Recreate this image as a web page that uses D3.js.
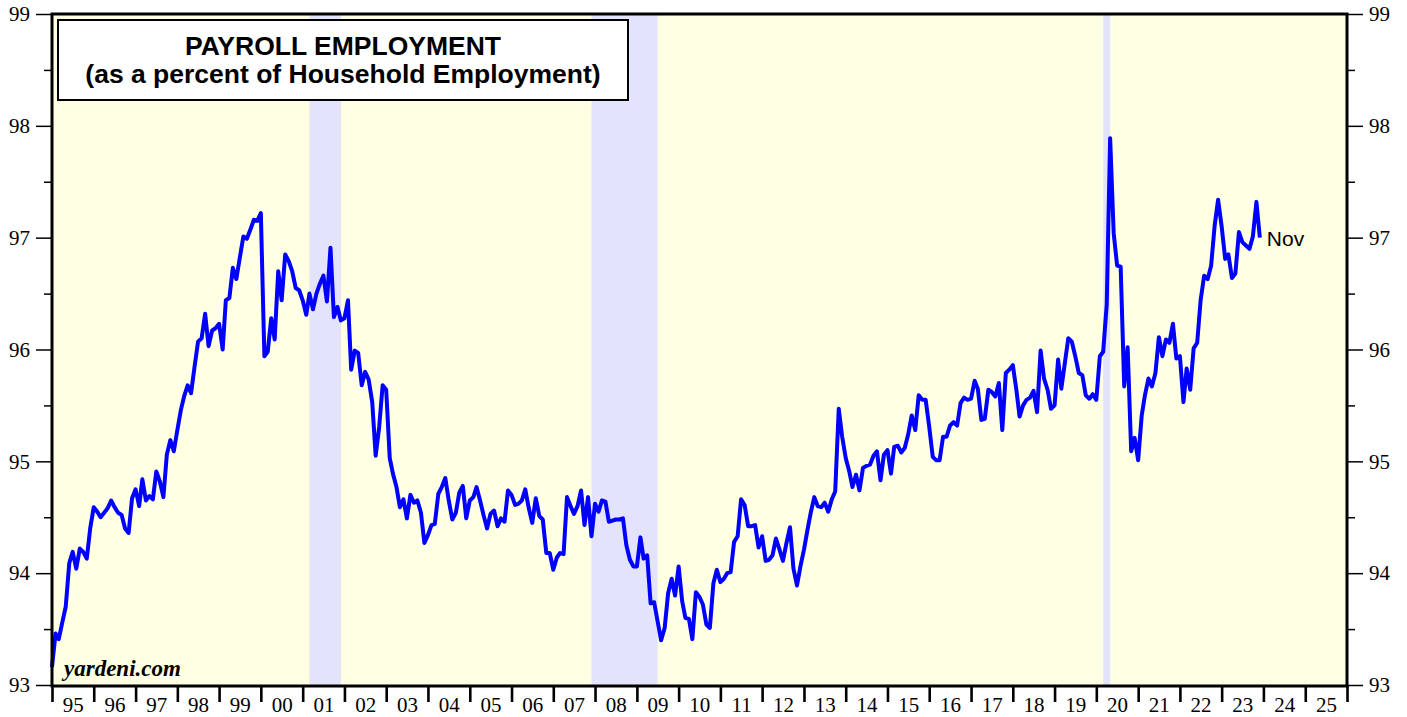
<!DOCTYPE html>
<html>
<head>
<meta charset="utf-8">
<script src="https://cdn.jsdelivr.net/npm/d3@7"></script>
<style>
  body { margin: 0; background: #fff; }
  svg { display: block; }
</style>
</head>
<body>
<svg id="chart" width="1407" height="717"></svg>
<script>
// monthly series, Dec 1994 .. Nov 2023 (percent)
const firstMonth = [1994, 11] // year, month index (0 = Jan)
const payrollPct = [
  93.16, 93.46, 93.41, 93.56, 93.70, 94.09, 94.19, 94.04, 94.22, 94.19, 94.13, 94.40,
  94.59, 94.55, 94.50, 94.54, 94.58, 94.65, 94.59, 94.54, 94.52, 94.40, 94.36, 94.67,
  94.75, 94.60, 94.84, 94.65, 94.69, 94.66, 94.91, 94.82, 94.68, 95.06, 95.19, 95.09,
  95.28, 95.46, 95.58, 95.68, 95.61, 95.85, 96.07, 96.10, 96.32, 96.03, 96.17, 96.19,
  96.23, 96.00, 96.44, 96.46, 96.73, 96.63, 96.82, 97.01, 96.99, 97.07, 97.16, 97.15,
  97.22, 95.94, 95.98, 96.28, 96.09, 96.70, 96.44, 96.85, 96.79, 96.70, 96.55, 96.53,
  96.44, 96.31, 96.50, 96.36, 96.50, 96.59, 96.66, 96.43, 96.91, 96.29, 96.38, 96.26,
  96.28, 96.44, 95.82, 95.99, 95.97, 95.68, 95.80, 95.73, 95.53, 95.05, 95.31, 95.68,
  95.64, 95.03, 94.89, 94.77, 94.59, 94.66, 94.49, 94.70, 94.63, 94.65, 94.54, 94.27,
  94.34, 94.43, 94.44, 94.71, 94.77, 94.85, 94.65, 94.48, 94.54, 94.72, 94.78, 94.49,
  94.65, 94.68, 94.77, 94.65, 94.52, 94.40, 94.53, 94.56, 94.42, 94.49, 94.46, 94.74,
  94.70, 94.61, 94.62, 94.65, 94.75, 94.58, 94.45, 94.67, 94.51, 94.48, 94.18, 94.18,
  94.03, 94.14, 94.18, 94.17, 94.68, 94.60, 94.53, 94.60, 94.74, 94.43, 94.68, 94.33,
  94.62, 94.55, 94.65, 94.64, 94.46, 94.47, 94.48, 94.48, 94.49, 94.25, 94.12, 94.06,
  94.06, 94.32, 94.13, 94.16, 93.73, 93.74, 93.57, 93.40, 93.51, 93.82, 93.95, 93.80,
  94.06, 93.75, 93.60, 93.59, 93.41, 93.83, 93.79, 93.72, 93.54, 93.51, 93.91, 94.03,
  93.92, 93.95, 94.00, 94.01, 94.28, 94.33, 94.66, 94.61, 94.42, 94.42, 94.43, 94.23,
  94.33, 94.11, 94.12, 94.16, 94.31, 94.21, 94.11, 94.27, 94.41, 94.04, 93.89, 94.06,
  94.21, 94.39, 94.54, 94.68, 94.60, 94.59, 94.63, 94.55, 94.66, 94.73, 95.47, 95.22,
  95.03, 94.91, 94.77, 94.88, 94.74, 94.94, 94.96, 94.97, 95.05, 95.09, 94.83, 95.06,
  95.10, 94.89, 95.13, 95.14, 95.08, 95.12, 95.24, 95.41, 95.28, 95.59, 95.55, 95.55,
  95.31, 95.04, 95.01, 95.01, 95.22, 95.22, 95.32, 95.35, 95.32, 95.52, 95.57, 95.55,
  95.56, 95.72, 95.65, 95.37, 95.38, 95.64, 95.62, 95.58, 95.70, 95.28, 95.79, 95.82,
  95.86, 95.64, 95.40, 95.50, 95.55, 95.57, 95.63, 95.44, 95.99, 95.74, 95.64, 95.47,
  95.50, 95.91, 95.65, 95.88, 96.10, 96.07, 95.94, 95.79, 95.77, 95.59, 95.56, 95.60,
  95.55, 95.94, 95.98, 96.40, 97.89, 97.04, 96.75, 96.74, 95.67, 96.02, 95.09, 95.21,
  95.01, 95.41, 95.59, 95.74, 95.67, 95.79, 96.11, 95.94, 96.09, 96.06, 96.23, 95.92,
  95.94, 95.53, 95.83, 95.64, 96.01, 96.06, 96.44, 96.66, 96.63, 96.75, 97.11, 97.34,
  97.10, 96.81, 96.85, 96.64, 96.68, 97.05, 96.96, 96.93, 96.90, 97.01, 97.32, 97.00
]

// recessions: [start year, start month, end year, end month] (months 1-12)
const recessions = [
  [2001, 3, 2001, 11],
  [2007, 12, 2009, 6],
  [2020, 3, 2020, 4]
]

const yMajor = [93, 94, 95, 96, 97, 98, 99]
const yMinor = [93.5, 94.5, 95.5, 96.5, 97.5, 98.5]
const yearStart = 1995
const yearEnd = 2026
const titleLines = ['PAYROLL EMPLOYMENT', '(as a percent of Household Employment)']
const lastLabel = 'Nov'
const sourceLabel = 'yardeni.com'

const svg = d3.select('#chart')
const plotLeft = 52, plotRight = 1347, plotTop = 14, plotBottom = 685

const xScale = d3.scaleTime()
  .domain([new Date(yearStart, 0, 1), new Date(yearEnd, 0, 1)])
  .range([plotLeft, plotRight])
const yScale = d3.scaleLinear().domain([93, 99]).range([plotBottom, plotTop])

// each value is placed at the end of its month
const data = payrollPct.map((v, i) => ({
  date: new Date(firstMonth[0], firstMonth[1] + i + 1, 1),
  value: v
}))

// background
svg.append('rect')
  .attr('x', plotLeft).attr('y', plotTop)
  .attr('width', plotRight - plotLeft).attr('height', plotBottom - plotTop)
  .attr('fill', '#ffffe3')

svg.append('g')
  .selectAll('rect')
  .data(recessions)
  .join('rect')
  .attr('x', d => xScale(new Date(d[0], d[1] - 1, 1)))
  .attr('width', d => xScale(new Date(d[2], d[3], 1)) - xScale(new Date(d[0], d[1] - 1, 1)))
  .attr('y', plotTop)
  .attr('height', plotBottom - plotTop)
  .attr('fill', '#e3e3fb')

// y axes, left and right
const fontSerif = '"Liberation Serif", "DejaVu Serif", serif'
function yAxes(axisFn, xPos) {
  const major = svg.append('g')
    .attr('transform', `translate(${xPos},0)`)
    .call(axisFn(yScale).tickValues(yMajor).tickSize(16).tickPadding(6).tickFormat(d3.format('d')))
  major.select('.domain').remove()
  major.selectAll('line').attr('stroke-width', 1.5)
  major.selectAll('text')
    .attr('font-family', fontSerif).attr('font-size', 21).attr('fill', '#000')
  const minor = svg.append('g')
    .attr('transform', `translate(${xPos},0)`)
    .call(axisFn(yScale).tickValues(yMinor).tickSize(8).tickFormat(''))
  minor.select('.domain').remove()
  minor.selectAll('line').attr('stroke-width', 1.5)
}
yAxes(d3.axisLeft, plotLeft)
yAxes(d3.axisRight, plotRight)

// x axis: year ticks and mid-year labels
const yearTicks = d3.range(yearStart, yearEnd + 1).map(y => new Date(y, 0, 1))
const xTicks = svg.append('g')
  .attr('transform', `translate(0,${plotBottom})`)
  .call(d3.axisBottom(xScale).tickValues(yearTicks).tickSize(17).tickFormat(''))
xTicks.select('.domain').remove()
xTicks.selectAll('line').attr('stroke-width', 2.6)

const midYears = d3.range(yearStart, yearEnd).map(y => new Date(y, 6, 1))
const xLabels = svg.append('g')
  .attr('transform', `translate(0,${plotBottom})`)
  .call(d3.axisBottom(xScale).tickValues(midYears).tickSize(0).tickPadding(12)
    .tickFormat(d3.timeFormat('%y')))
xLabels.select('.domain').remove()
xLabels.selectAll('text')
  .attr('font-family', fontSerif).attr('font-size', 21).attr('fill', '#000')

// the series
const line = d3.line()
  .x(d => xScale(d.date))
  .y(d => yScale(d.value))

svg.append('path')
  .datum(data)
  .attr('d', line)
  .attr('fill', 'none')
  .attr('stroke', '#0000ff')
  .attr('stroke-width', 4)
  .attr('stroke-linejoin', 'round')

// frame
svg.append('rect')
  .attr('x', plotLeft).attr('y', plotTop)
  .attr('width', plotRight - plotLeft).attr('height', plotBottom - plotTop + 1)
  .attr('fill', 'none')
  .attr('stroke', '#000')
  .attr('stroke-width', 3)

// title box
const fontSans = '"Liberation Sans", Arial, sans-serif'
svg.append('rect')
  .attr('x', 58).attr('y', 20)
  .attr('width', 570).attr('height', 80)
  .attr('fill', '#fff')
  .attr('stroke', '#000')
  .attr('stroke-width', 2)

svg.append('g')
  .selectAll('text')
  .data(titleLines)
  .join('text')
  .attr('x', 343)
  .attr('y', (d, i) => 55 + i * 28)
  .attr('text-anchor', 'middle')
  .attr('font-family', fontSans)
  .attr('font-weight', 'bold')
  .attr('font-size', 26.5)
  .text(d => d)

// last point label
const last = data[data.length - 1]
svg.append('text')
  .attr('x', xScale(last.date) + 7)
  .attr('y', yScale(last.value) + 8)
  .attr('font-family', fontSans)
  .attr('font-size', 21)
  .text(lastLabel)

svg.append('text')
  .attr('x', 64)
  .attr('y', 676)
  .attr('font-family', fontSerif)
  .attr('font-weight', 'bold')
  .attr('font-style', 'italic')
  .attr('font-size', 23)
  .text(sourceLabel)
</script>
</body>
</html>
